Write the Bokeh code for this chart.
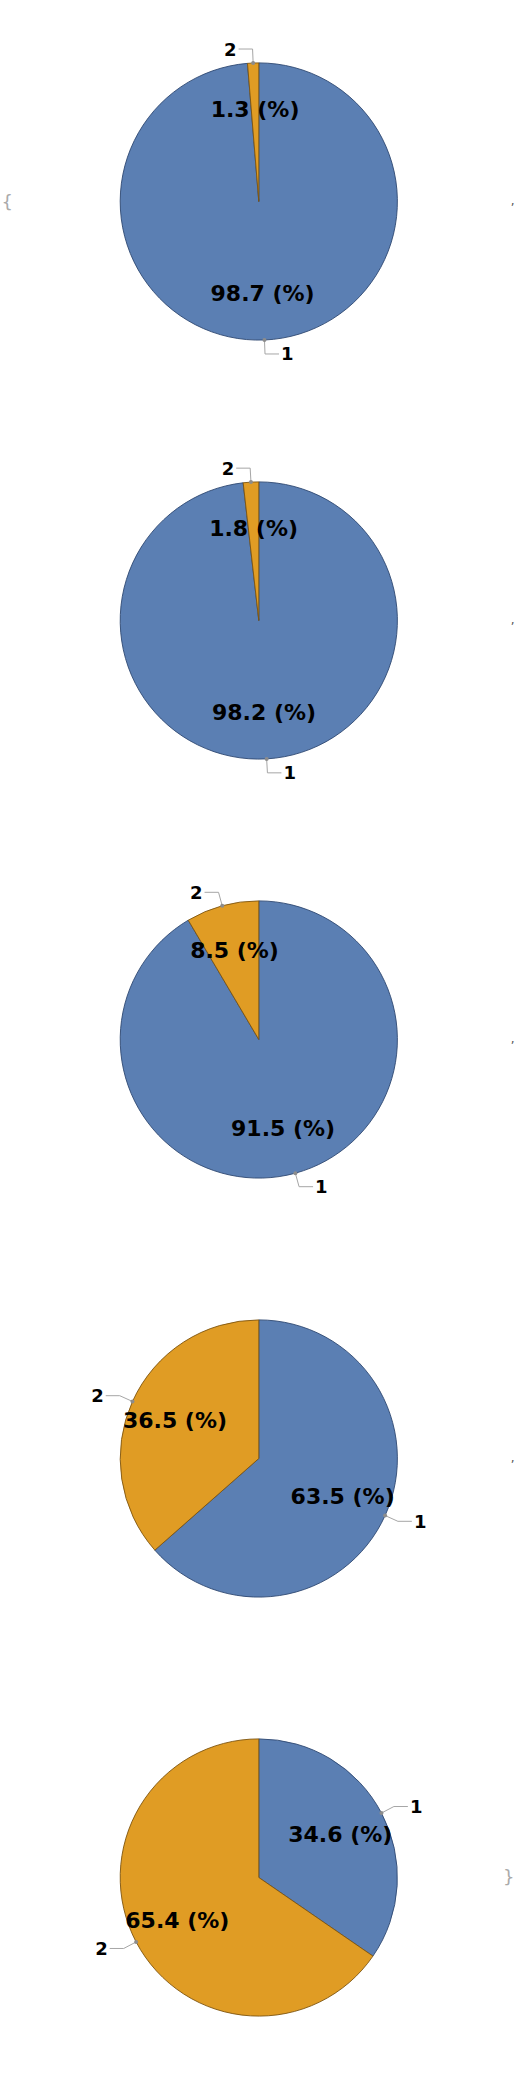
import math
from bokeh.plotting import figure
from bokeh.layouts import column
from bokeh.models import Range1d, ColumnDataSource
from bokeh.core.properties import value
from bokeh.embed import file_html
from bokeh.resources import INLINE

# ---- data ----
categories = ["1", "2"]
share_cat1 = [98.7, 98.2, 91.5, 63.5, 34.6]
share_cat2 = [1.3, 1.8, 8.5, 36.5, 65.4]
side_marks = [",", ",", ",", ",", "}"]

# ---- style ----
fill_colors = ["#5B7FB3", "#E09C24"]
edge_colors = ["#2F4872", "#7E5510"]
FONT = "DejaVu Sans"
W = 517
H = 419
H_LAST = 2078 - 4 * 419
R = 138.6
CX = 258.3
CY_FROM_TOP = 201
LABEL_R = 92
RADIAL = 14
HORIZ = 14

figs = []
n = len(share_cat1)
for i in range(n):
    h = H if i < n - 1 else H_LAST
    p = figure(width=W, height=h, output_backend="svg", toolbar_location=None,
               x_range=Range1d(0, W), y_range=Range1d(0, h),
               min_border=0, min_border_left=0, min_border_right=0,
               min_border_top=0, min_border_bottom=0)
    p.axis.visible = False
    p.grid.visible = False
    p.outline_line_color = None
    p.background_fill_color = "white"
    p.border_fill_color = "white"

    cx = CX
    cy = h - CY_FROM_TOP
    vals = [share_cat1[i], share_cat2[i]]
    total = sum(vals)

    cum = 0.0
    starts, ends, mids = [], [], []
    for v in vals:
        a0 = cum / total * 2 * math.pi
        a1 = (cum + v) / total * 2 * math.pi
        starts.append(math.pi / 2 - a0)
        ends.append(math.pi / 2 - a1)
        mids.append((a0 + a1) / 2)
        cum += v

    src = ColumnDataSource(dict(start=starts, end=ends, fill=fill_colors, line=edge_colors))
    p.wedge(x=cx, y=cy, radius=R, start_angle="start", end_angle="end",
            direction="clock", fill_color="fill", line_color="line",
            line_width=0.9, source=src)

    # percentage labels
    px, py, ptxt = [], [], []
    for v, m in zip(vals, mids):
        px.append(cx + LABEL_R * math.sin(m))
        py.append(cy + LABEL_R * math.cos(m))
        ptxt.append(f"{v:.1f} (%)")
    p.text(x=px, y=py, text=ptxt, text_font=value(FONT), text_font_style="bold",
           text_font_size="22px", text_align="center", text_baseline="middle",
           text_color="black")

    # leader lines + category labels
    for cat, m in zip(categories, mids):
        s, c = math.sin(m), math.cos(m)
        ax, ay = cx + R * s, cy + R * c
        ex, ey = cx + (R + RADIAL) * s, cy + (R + RADIAL) * c
        sign = 1 if s >= 0 else -1
        fx, fy = ex + sign * HORIZ, ey
        p.line(x=[ax, ex, fx], y=[ay, ey, fy], line_color="#A6A6A6", line_width=1)
        p.scatter(x=[ax], y=[ay], size=4, marker="circle", fill_color="#8C8C8C",
                  line_color=None)
        p.text(x=[fx + sign * 2], y=[fy], text=[cat], text_font=value(FONT),
               text_font_style="bold", text_font_size="18px",
               text_align="left" if sign > 0 else "right", text_baseline="middle",
               text_color="black")

    # small truncated marks at the panel edges
    mark = side_marks[i]
    p.text(x=[W - 3], y=[cy + 1], text=[mark], text_font=value(FONT),
           text_font_size="12px" if mark == "," else "18px",
           text_align="right", text_baseline="middle",
           text_color="#555555" if mark == "," else "#AAAAAA")
    if i == 0:
        p.text(x=[1], y=[cy], text=["{"], text_font=value(FONT),
               text_font_size="18px", text_align="left", text_baseline="middle",
               text_color="#AAAAAA")
    figs.append(p)

layout = column(*figs, spacing=0)
open("out.html", "w").write(file_html(layout, INLINE))
